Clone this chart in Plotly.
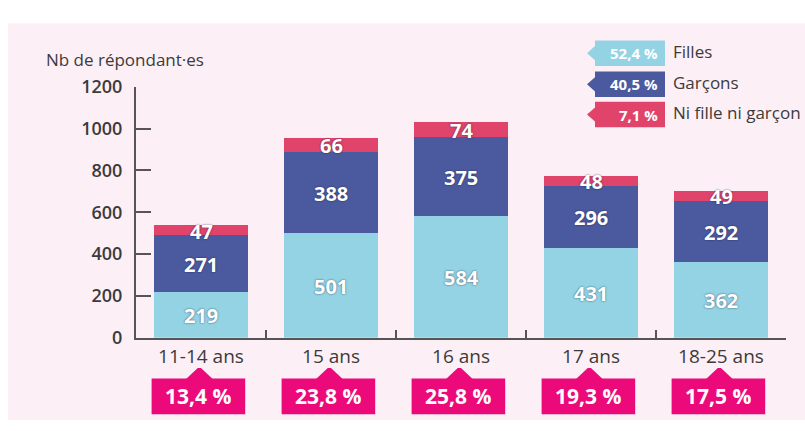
import plotly.graph_objects as go

# ---------------- data ----------------
categories = ["11-14 ans", "15 ans", "16 ans", "17 ans", "18-25 ans"]
filles = [219, 501, 584, 431, 362]
garcons = [271, 388, 375, 296, 292]
ni_ni = [47, 66, 74, 48, 49]
part_age = ["13,4 %", "23,8 %", "25,8 %", "19,3 %", "17,5 %"]
series_names = ["Filles", "Garçons", "Ni fille ni garçon"]
series_share = ["52,4 %", "40,5 %", "7,1 %"]
y_ticks = [0, 200, 400, 600, 800, 1000, 1200]
y_title = "Nb de répondant·es"

# ---------------- style ----------------
W, H = 805, 431
C_F = "#93d3e4"
C_G = "#4b5a9f"
C_N = "#e0446b"
C_MAG = "#ec0a7a"
PANEL = "#fdeff6"
TXT = "#3b3b3b"
AX = "#555555"
FONT = "Open Sans"
colors = [C_F, C_G, C_N]

def PX(x):
    return x / W

def PY(y):
    return 1 - y / H

fig = go.Figure()
for name, vals, col in zip(series_names, [filles, garcons, ni_ni], colors):
    fig.add_trace(go.Bar(x=categories, y=vals, name=name, marker=dict(color=col, line=dict(width=0)),
                         width=0.72, showlegend=False, hoverinfo="x+y+name"))

annotations = []
shadow = "0px 0px 2px rgba(20,20,50,0.7)"
# bar labels at segment centres
for i, c in enumerate(categories):
    base = 0
    for vals in [filles, garcons, ni_ni]:
        v = vals[i]
        annotations.append(dict(x=c, y=base + v / 2, xref="x", yref="y", text=f"<b>{v}</b>",
                                showarrow=False, font=dict(family=FONT, size=20, color="white", shadow=shadow),
                                yshift=-1))
        base += v

shapes = []
# pink panel
shapes.append(dict(type="rect", xref="paper", yref="paper", x0=PX(8), x1=1, y0=0, y1=PY(11),
                   fillcolor=PANEL, line=dict(width=0), layer="below"))

# bottom badges (category share)
for i, c in enumerate(categories):
    shapes.append(dict(type="rect", xref="x", yref="paper", x0=i - 0.38, x1=i + 0.34,
                       y0=PY(425), y1=PY(387), fillcolor=C_MAG, line=dict(width=0)))
    shapes.append(dict(type="path", xref="x", yref="paper",
                       path=f"M {i-0.115},{PY(387.5)} L {i-0.025},{PY(376)} L {i+0.0},{PY(376)} L {i+0.09},{PY(387.5)} Z",
                       fillcolor=C_MAG, line=dict(width=0)))
    annotations.append(dict(x=i - 0.02, y=PY(406), xref="x", yref="paper", text=f"<b>{part_age[i]}</b>",
                            showarrow=False, font=dict(family=FONT, size=21, color="white"),
                            xanchor="center", yanchor="middle"))

# legend badges
tops = [29, 62, 94]
for k, (name, share, col) in enumerate(zip(series_names, series_share, colors)):
    t = tops[k]
    b = t + 27
    m = (t + b) / 2
    path = (f"M {PX(595)},{PY(t)} L {PX(665)},{PY(t)} L {PX(665)},{PY(b)} L {PX(595)},{PY(b)} "
            f"L {PX(595)},{PY(b-6)} L {PX(587)},{PY(m)} L {PX(595)},{PY(t+6)} Z")
    shapes.append(dict(type="path", xref="paper", yref="paper", path=path, fillcolor=col,
                       line=dict(width=0)))
    annotations.append(dict(x=PX(660), y=PY(m), xref="paper", yref="paper", text=f"<b>{share}</b>",
                            showarrow=False, xanchor="right", yanchor="middle",
                            font=dict(family=FONT, size=15, color="white")))
    annotations.append(dict(x=PX(671), y=PY(m - 2), xref="paper", yref="paper", text=name,
                            showarrow=False, xanchor="left", yanchor="middle",
                            font=dict(family=FONT, size=17, color=TXT)))

# y title
annotations.append(dict(x=PX(44), y=PY(49), xref="paper", yref="paper", text=y_title, showarrow=False,
                        xanchor="left", yanchor="middle", font=dict(family=FONT, size=17, color=TXT)))

fig.update_layout(
    width=W, height=H, autosize=False,
    margin=dict(l=0, r=0, t=0, b=0),
    paper_bgcolor="white", plot_bgcolor="rgba(0,0,0,0)",
    barmode="stack", bargap=0.28,
    font=dict(family=FONT, color=TXT),
    shapes=shapes, annotations=annotations,
    xaxis=dict(domain=[PX(136), PX(786)], type="category", showline=True, linecolor=AX, linewidth=2,
               ticks="inside", tickson="boundaries", ticklen=8, tickwidth=1.5, tickcolor=AX,
               tickfont=dict(family=FONT, size=19, color=TXT), showgrid=False, zeroline=False,
               fixedrange=True),
    yaxis=dict(domain=[PY(344), PY(78)], range=[0, 1200], showline=True, linecolor=AX, linewidth=2,
               tickvals=y_ticks, ticktext=[str(v) for v in y_ticks],
               ticks="inside", ticklen=15, tickwidth=2, tickcolor=AX, ticklabelstandoff=8,
               tickfont=dict(family=FONT, size=18, color=TXT, weight=600),
               showgrid=False, zeroline=False, fixedrange=True),
)

fig.write_html("out.html")
